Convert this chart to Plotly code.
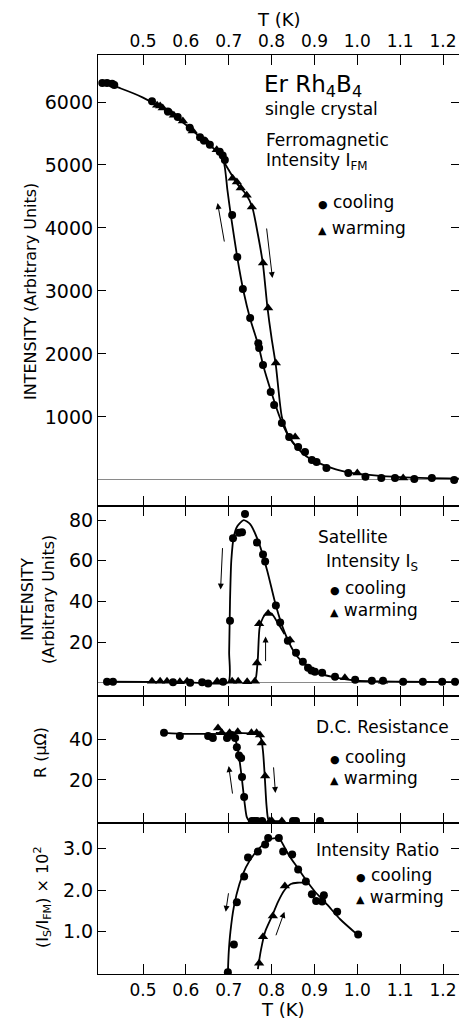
import plotly.graph_objects as go

# ---------------- data ----------------
# Panel 1: ferromagnetic intensity I_FM
fm_cool_T = [0.405, 0.416, 0.428, 0.433, 0.521, 0.558, 0.581, 0.609, 0.633, 0.642, 0.656, 0.679, 0.686, 0.691,
             0.708, 0.720, 0.733, 0.750, 0.769, 0.771, 0.780, 0.798, 0.806, 0.824, 0.841, 0.862, 0.878, 0.894,
             0.905, 0.928, 0.979, 1.019, 1.056, 1.088, 1.133, 1.174, 1.226]
fm_cool_I = [6300, 6300, 6290, 6270, 6010, 5850, 5760, 5590, 5440, 5390, 5320, 5210, 5150, 5080,
             4205, 3540, 3030, 2570, 2170, 2095, 1825, 1397, 1190, 905, 683, 524, 444, 317,
             286, 190, 110, 50, 30, 30, 15, 30, 0]
fm_warm_T = [0.533, 0.540, 0.546, 0.565, 0.572, 0.593, 0.616, 0.649, 0.672, 0.709, 0.719, 0.728, 0.742, 0.754,
             0.780, 0.792, 0.810, 0.855, 1.000, 1.107]
fm_warm_I = [5950, 5935, 5905, 5825, 5790, 5700, 5540, 5365, 5240, 4790, 4730, 4635, 4520, 4333,
             3444, 2730, 1857, 683, 110, 30]
fm_cool_curve_T = [0.405, 0.45, 0.50, 0.55, 0.60, 0.64, 0.67, 0.688, 0.697, 0.705, 0.72, 0.735, 0.75, 0.77,
                   0.78, 0.80, 0.82, 0.84, 0.86, 0.88, 0.90, 0.95, 1.00, 1.10, 1.237]
fm_cool_curve_I = [6310, 6210, 6070, 5880, 5640, 5400, 5230, 5060, 4600, 4200, 3530, 2980, 2560, 2120,
                   1830, 1380, 980, 690, 510, 380, 300, 170, 100, 45, 20]
fm_warm_curve_T = [0.688, 0.70, 0.72, 0.74, 0.755, 0.768, 0.78, 0.79, 0.80, 0.81, 0.824, 0.84, 0.86]
fm_warm_curve_I = [5060, 4920, 4700, 4540, 4330, 3900, 3420, 2760, 2250, 1820, 1000, 690, 510]

# Panel 2: satellite intensity I_S
s_cool_T = [0.416, 0.430, 0.570, 0.610, 0.638, 0.652, 0.687, 0.703, 0.710, 0.724, 0.731, 0.738, 0.766, 0.780,
            0.785, 0.810, 0.820, 0.838, 0.857, 0.873, 0.885, 0.893, 0.901, 0.918, 0.948, 0.995, 1.034, 1.060,
            1.107, 1.153, 1.198, 1.228]
s_cool_I = [0.5, 0.5, 0.3, 0.0, 0.3, -0.3, 0.5, 30.5, 71, 73.7, 74, 83, 69, 63,
            59.6, 38, 29.6, 20.7, 14.8, 10.3, 7.4, 6.0, 5.4, 4.9, 3.0, 1.5, 1.0, 1.0,
            0.5, 0.5, 0.5, 0.5]
s_warm_T = [0.521, 0.540, 0.556, 0.586, 0.603, 0.673, 0.708, 0.722, 0.743, 0.761, 0.766, 0.771, 0.792,
            0.843, 0.971, 1.060]
s_warm_I = [0.8, 0.8, 0.8, 0.5, 0.8, 0.8, 0.8, 0.8, 0.5, 0.8, 9.7, 29, 34,
            21, 2.5, 0.8]
s_cool_curve_T = [0.416, 0.60, 0.699, 0.701, 0.703, 0.706, 0.712, 0.72, 0.735, 0.75, 0.77, 0.79, 0.81, 0.83,
                  0.85, 0.87, 0.90, 0.95, 1.00, 1.10, 1.237]
s_cool_curve_I = [0.5, 0.3, 0.3, 15, 40, 60, 72, 77, 80, 78, 69, 55, 38, 25,
                  16, 10.5, 5.5, 2.5, 1.0, 0.5, 0.3]
s_warm_curve_T = [0.760, 0.764, 0.768, 0.772, 0.780, 0.790, 0.800, 0.810, 0.830]
s_warm_curve_I = [0.5, 3, 12, 27, 32, 34.5, 34, 31, 24]

# Panel 3: D.C. resistance R (micro-ohm)
r_cool_T = [0.549, 0.586, 0.652, 0.663, 0.696, 0.707, 0.715, 0.719, 0.724, 0.729, 0.731, 0.736,
            0.754, 0.760, 0.766, 0.778, 0.850, 0.857, 0.913]
r_cool_R = [43, 41.5, 41.5, 40.5, 40.5, 42, 40.5, 36, 32, 30.7, 21.5, 11.7,
            0, 0, 0, 0, 0, 0, 0]
r_warm_T = [0.675, 0.684, 0.702, 0.721, 0.753, 0.765, 0.773, 0.777, 0.785, 0.796, 0.801, 0.824]
r_warm_R = [45.4, 43, 43, 43.5, 43, 43, 42, 38, 22, 0, 0, 0]
r_cool_curve_T = [0.549, 0.60, 0.70, 0.71, 0.718, 0.725, 0.731, 0.737, 0.742, 0.748, 0.78]
r_cool_curve_R = [43, 42.5, 42.3, 41.5, 38, 30, 20, 9, 2, 0, 0]
r_warm_curve_T = [0.67, 0.70, 0.765, 0.775, 0.780, 0.784, 0.788, 0.792, 0.797, 0.83]
r_warm_curve_R = [43, 42.8, 42.5, 40.5, 34, 22, 8, 1, 0, 0]

# Panel 4: intensity ratio (I_S/I_FM) x 10^2
q_cool_T = [0.698, 0.712, 0.719, 0.736, 0.745, 0.768, 0.785, 0.792, 0.817, 0.827, 0.848, 0.862, 0.880,
            0.894, 0.904, 0.918, 0.922, 0.953, 1.002]
q_cool_V = [0.02, 0.69, 1.71, 2.33, 2.79, 2.93, 3.10, 3.26, 3.26, 2.93, 2.86, 2.50, 2.21,
            1.90, 1.74, 1.73, 1.88, 1.48, 0.93]
q_warm_T = [0.771, 0.780, 0.803, 0.831]
q_warm_V = [0.24, 0.88, 1.38, 2.10]
q_cool_curve_T = [0.698, 0.700, 0.704, 0.712, 0.725, 0.74, 0.76, 0.78, 0.80, 0.815, 0.82, 0.84, 0.86, 0.88,
                  0.90, 0.93, 0.96, 1.00]
q_cool_curve_V = [0.0, 0.5, 1.0, 1.6, 2.15, 2.55, 2.88, 3.10, 3.24, 3.25, 3.22, 2.85, 2.55, 2.25,
                  1.98, 1.65, 1.30, 0.93]
q_warm_curve_T = [0.768, 0.775, 0.785, 0.80, 0.815, 0.83, 0.845, 0.86, 0.875, 0.882]
q_warm_curve_V = [0.10, 0.55, 1.00, 1.35, 1.72, 2.00, 2.15, 2.18, 2.18, 2.18]

x_tickvals = [0.5, 0.6, 0.7, 0.8, 0.9, 1.0, 1.1, 1.2]
x_ticktext = ["0.5", "0.6", "0.7", "0.8", "0.9", "1.0", "1.1", "1.2"]
y1_ticks = [1000, 2000, 3000, 4000, 5000, 6000]
y2_ticks = [20, 40, 60, 80]
y3_ticks = [20, 40]
y4_ticks = [1.0, 2.0, 3.0]
y4_ticktext = ["1.0", "2.0", "3.0"]

# ---------------- figure ----------------
FONT = "DejaVu Sans"
W, H = 459, 1021
ML, MR, MT, MB = 98, 0, 55, 47
PW, PH = W - ML - MR, H - MT - MB


def px(x):
    return (x - ML) / PW


def py(y):
    return (H - MB - y) / PH


fig = go.Figure()


def add_panel(n, cT, cV, wT, wV, ccT, ccV, wcT, wcV):
    xa = "x" if n == 1 else f"x{n}"
    ya = "y" if n == 1 else f"y{n}"
    line = dict(color="black", width=1.8, shape="spline", smoothing=0.6)
    fig.add_trace(go.Scatter(x=ccT, y=ccV, mode="lines", line=line, xaxis=xa, yaxis=ya, hoverinfo="skip"))
    fig.add_trace(go.Scatter(x=wcT, y=wcV, mode="lines", line=line, xaxis=xa, yaxis=ya, hoverinfo="skip"))
    fig.add_trace(go.Scatter(x=cT, y=cV, mode="markers", xaxis=xa, yaxis=ya, name="cooling",
                             marker=dict(symbol="circle", size=8, color="black")))
    fig.add_trace(go.Scatter(x=wT, y=wV, mode="markers", xaxis=xa, yaxis=ya, name="warming",
                             marker=dict(symbol="triangle-up", size=9, color="black")))


add_panel(1, fm_cool_T, fm_cool_I, fm_warm_T, fm_warm_I, fm_cool_curve_T, fm_cool_curve_I,
          fm_warm_curve_T, fm_warm_curve_I)
add_panel(2, s_cool_T, s_cool_I, s_warm_T, s_warm_I, s_cool_curve_T, s_cool_curve_I,
          s_warm_curve_T, s_warm_curve_I)
add_panel(3, r_cool_T, r_cool_R, r_warm_T, r_warm_R, r_cool_curve_T, r_cool_curve_R,
          r_warm_curve_T, r_warm_curve_R)
add_panel(4, q_cool_T, q_cool_V, q_warm_T, q_warm_V, q_cool_curve_T, q_cool_curve_V,
          q_warm_curve_T, q_warm_curve_V)

d1 = [py(506), 1.0]
d2 = [py(696), py(506)]
d3 = [py(823), py(696)]
d4 = [0.0, py(823)]

axis_common = dict(showline=True, linecolor="black", linewidth=1.2, mirror="ticks", ticks="inside",
                   tickcolor="black", tickwidth=1.4, showgrid=False, zeroline=False, automargin=False)
xcommon = dict(axis_common, range=[0.395, 1.2373], tickvals=x_tickvals, ticktext=x_ticktext, ticklen=10,
               tickfont=dict(family=FONT, size=17, color="black"))
ycommon = dict(axis_common, ticklen=8, tickfont=dict(family=FONT, size=19, color="black"))

fig.update_layout(
    width=W, height=H,
    margin=dict(l=ML, r=MR, t=MT, b=MB, autoexpand=False),
    paper_bgcolor="white", plot_bgcolor="white",
    showlegend=False,
    font=dict(family=FONT, color="black"),
    xaxis=dict(xcommon, anchor="y", side="top", showticklabels=True),
    xaxis2=dict(xcommon, anchor="y2", showticklabels=False, matches="x"),
    xaxis3=dict(xcommon, anchor="y3", showticklabels=False, matches="x"),
    xaxis4=dict(xcommon, anchor="y4", side="bottom", showticklabels=True, matches="x"),
    yaxis=dict(ycommon, domain=d1, range=[-413, 6746], tickvals=y1_ticks,
               zeroline=True, zerolinecolor="#8a8a8a", zerolinewidth=1.2),
    yaxis2=dict(ycommon, domain=d2, range=[-6.5, 86.9], tickvals=y2_ticks,
                zeroline=True, zerolinecolor="#8a8a8a", zerolinewidth=1.2),
    yaxis3=dict(ycommon, domain=d3, range=[-1.0, 61.0], tickvals=y3_ticks),
    yaxis4=dict(ycommon, domain=d4, range=[-0.02, 3.62], tickvals=y4_ticks, ticktext=y4_ticktext),
)

ann = []


def text(x, y, s, size, xanchor="left", angle=0):
    ann.append(dict(x=px(x), y=py(y), xref="paper", yref="paper", text=s, showarrow=False,
                    xanchor=xanchor, yanchor="middle", textangle=angle,
                    font=dict(family=FONT, size=size, color="black")))


dot = "<span style='font-size:11px'>●</span>"
tri = "<span style='font-size:11px'>▲</span>"

# axis titles
text(279, 20, "T (K)", 18, xanchor="center")
text(283, 1009, "T (K)", 18, xanchor="center")
text(30, 292, "INTENSITY (Arbitrary Units)", 16, xanchor="center", angle=-90)
text(38, 600, "INTENSITY<br>(Arbitrary Units)", 16, xanchor="center", angle=-90)
text(40, 753, "R (μΩ)", 16, xanchor="center", angle=-90)
text(42, 897, "(I<sub>S</sub>/I<sub>FM</sub>) × 10<sup>2</sup>", 16, xanchor="center", angle=-90)

# panel 1 texts
text(262, 86, "Er Rh<sub>4</sub>B<sub>4</sub>", 23)
text(263, 109, "single crystal", 17)
text(264, 140, "Ferromagnetic", 17)
text(264, 162, "Intensity I<sub>FM</sub>", 17)
text(316, 202, dot + " cooling", 17)
text(316, 228, tri + " warming", 17)
# panel 2 texts
text(316, 537, "Satellite", 17)
text(324, 562, "Intensity I<sub>S</sub>", 17)
text(328, 588, dot + " cooling", 17)
text(328, 610, tri + " warming", 17)
# panel 3 texts
text(314, 727, "D.C. Resistance", 17)
text(328, 757, dot + " cooling", 17)
text(328, 778, tri + " warming", 17)
# panel 4 texts
text(314, 850, "Intensity Ratio", 17)
text(354, 875, dot + " cooling", 17)
text(354, 897, tri + " warming", 17)


def arrow(xref, yref, x, y, ax, ay):
    ann.append(dict(x=x, y=y, xref=xref, yref=yref, ax=ax, ay=ay, text="", showarrow=True,
                    arrowhead=2, arrowsize=1.2, arrowwidth=1, arrowcolor="black"))


arrow("x", "y", 0.674, 4396, 7, 40)
arrow("x", "y", 0.802, 3206, -6, -51)
arrow("x2", "y2", 0.681, 45.8, 2, -43)
arrow("x2", "y2", 0.786, 22.7, 0, 26)
arrow("x3", "y3", 0.700, 26.8, 4, 29)
arrow("x3", "y3", 0.809, 13.7, -2, -27)
arrow("x4", "y4", 0.693, 1.48, 3, -20)
arrow("x4", "y4", 0.830, 1.48, -9, 25)

fig.update_layout(annotations=ann)
fig.write_html("out.html", config={"displayModeBar": False},
               post_script="document.body.style.margin='0px';")
